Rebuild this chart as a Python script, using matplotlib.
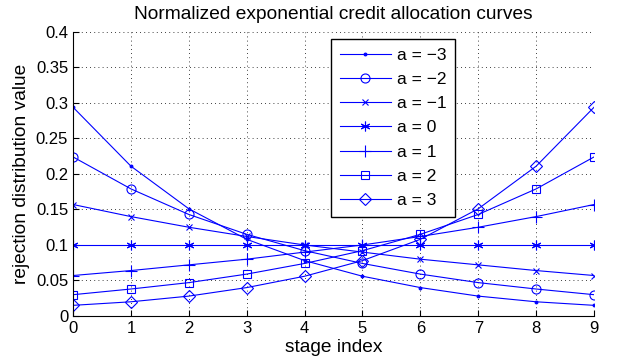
import matplotlib
matplotlib.use("Agg")
import matplotlib.pyplot as plt

plt.rcParams['font.family'] = ['Liberation Sans', 'DejaVu Sans']

# stage indices and curve values
stages = [0, 1, 2, 3, 4, 5, 6, 7, 8, 9]
a_values = [-3, -2, -1, 0, 1, 2, 3]
curve_m3 = [0.294, 0.211, 0.151, 0.108, 0.078, 0.056, 0.040, 0.028, 0.020, 0.015]
curve_m2 = [0.224, 0.179, 0.143, 0.115, 0.092, 0.074, 0.059, 0.047, 0.038, 0.030]
curve_m1 = [0.157, 0.140, 0.125, 0.112, 0.100, 0.090, 0.080, 0.072, 0.064, 0.057]
curve_0 = [0.100, 0.100, 0.100, 0.100, 0.100, 0.100, 0.100, 0.100, 0.100, 0.100]
curve_p1 = [0.057, 0.064, 0.072, 0.080, 0.090, 0.100, 0.112, 0.125, 0.140, 0.157]
curve_p2 = [0.030, 0.038, 0.047, 0.059, 0.074, 0.092, 0.115, 0.143, 0.179, 0.224]
curve_p3 = [0.015, 0.020, 0.028, 0.040, 0.056, 0.078, 0.108, 0.151, 0.211, 0.294]
curves = [curve_m3, curve_m2, curve_m1, curve_0, curve_p1, curve_p2, curve_p3]
markers = ['.', 'o', 'x', (6, 2, 0), '+', 's', 'D']
msizes = [4, 6.5, 5, 7, 8, 5.5, 6]

fig = plt.figure(figsize=(6.19, 3.63), dpi=100)
ax = fig.add_axes([0.118, 0.1295, 0.8417, 0.7824])

for a, ys, m, ms in zip(a_values, curves, markers, msizes):
    label = 'a = ' + str(a).replace('-', '\u2212')
    ax.plot(stages, ys, color='blue', lw=0.8, marker=m, ms=ms,
            mfc='blue' if m == '.' else 'none', mec='blue', mew=0.8,
            label=label)

ax.set_xlim(0, 9)
ax.set_ylim(0, 0.4)
ax.set_xticks(stages)
ax.set_yticks([0, 0.05, 0.1, 0.15, 0.2, 0.25, 0.3, 0.35, 0.4])
ax.set_yticklabels(['0', '0.05', '0.1', '0.15', '0.2', '0.25', '0.3', '0.35', '0.4'])
ax.tick_params(direction='in', labelsize=12, length=4)
ax.grid(True, linestyle=(0, (1, 4)), color='black', lw=0.6)
ax.spines['top'].set_visible(False)
ax.spines['right'].set_visible(False)

ax.set_title('Normalized exponential credit allocation curves', fontsize=13.8, pad=9)
ax.set_xlabel('stage index', fontsize=13.8, labelpad=2)
ax.set_ylabel('rejection distribution value', fontsize=13.8, labelpad=4)

leg = ax.legend(loc='upper left', bbox_to_anchor=(0.495, 0.975), fontsize=12.5,
                fancybox=False, framealpha=1, edgecolor='black', borderaxespad=0,
                handlelength=2.95, handletextpad=0.35, borderpad=0.5,
                labelspacing=0.52)
leg.get_frame().set_linewidth(1.0)

fig.savefig('out.png', dpi=100)
